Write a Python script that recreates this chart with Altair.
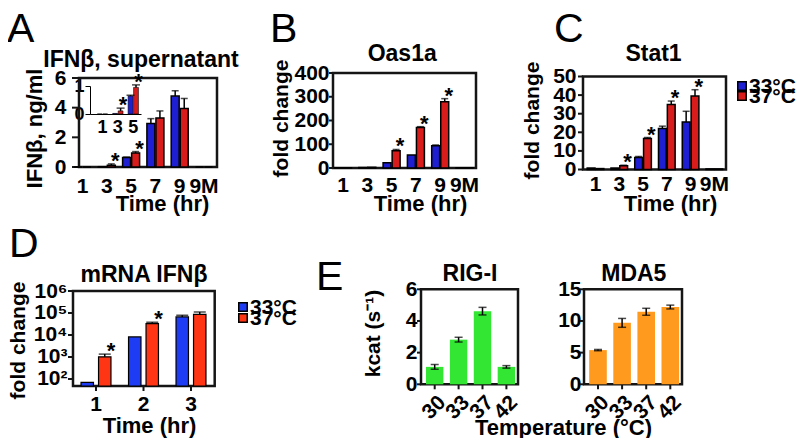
import altair as alt
import pandas as pd

W, H = 794, 430
M = 8


def px(v):
    return v - M


def py(v):
    return v - M


FONT = "Liberation Sans"
BLUE = "#1e1ed2"
RED = "#d81c1c"
D_BLUE = "#1f3cf5"
D_RED = "#ff3514"
GREEN = "#33e633"
ORANGE = "#ff9a1f"
LINE = "#151515"

# ---------------- data ----------------
time_cats = ["1", "3", "5", "7", "9", "9M"]
temps = ["33°C", "37°C"]

a_33 = [0.0, 0.02, 0.64, 2.93, 4.78, 0.0]
a_33_err = [0.0, 0.0, 0.03, 0.33, 0.36, 0.0]
a_37 = [0.0, 0.11, 0.95, 3.31, 3.94, 0.0]
a_37_err = [0.0, 0.10, 0.09, 0.47, 0.68, 0.0]
a_sig = ["3", "5"]
a_ticks = [0, 2, 4, 6]
inset_cats = ["1", "3", "5"]
inset_ticks = [0, 1]

b_33 = [1, 2, 22, 55, 94, 1]
b_33_err = [0, 0, 0, 0, 3, 0]
b_37 = [1, 3, 73, 171, 279, 1]
b_37_err = [0, 0, 5, 3, 13, 0]
b_sig = ["5", "7", "9"]
b_ticks = [0, 100, 200, 300, 400]

c_33 = [0.8, 0.8, 6.5, 22.0, 25.6, 0.3]
c_33_err = [0, 0, 0.5, 1.3, 5.7, 0]
c_37 = [0.5, 2.0, 16.7, 34.9, 39.5, 0.3]
c_37_err = [0, 0.3, 0.5, 1.9, 3.4, 0]
c_sig = ["3", "5", "7", "9"]
c_ticks = [0, 10, 20, 30, 40, 50]

d_cats = ["1", "2", "3"]
d_33 = [70, 8200, 66000]
d_33_err = [0, 0, 13000]
d_37 = [1020, 33000, 87000]
d_37_err = [330, 5000, 24000]
d_sig = ["1", "2"]
d_ticks = [100, 1000, 10000, 100000, 1000000]

e_temps = ["30", "33", "37", "42"]
rig = [1.1, 2.82, 4.62, 1.1]
rig_err = [0.15, 0.15, 0.24, 0.08]
rig_ticks = [0, 2, 4, 6]
mda = [5.4, 9.7, 11.45, 12.2]
mda_err = [0.1, 0.7, 0.55, 0.3]
mda_ticks = [0, 5, 10, 15]


def grouped_df(cats, v33, e33, v37, e37, sig):
    rows = []
    for i, c in enumerate(cats):
        for t, v, e in ((temps[0], v33[i], e33[i]), (temps[1], v37[i], e37[i])):
            rows.append({"cat": c, "temp": t, "val": v, "top": v + e, "err": e,
                         "sig": bool(t == temps[1] and c in sig)})
    return pd.DataFrame(rows)


def band_range(c0, step, n):
    r0 = c0 - step / 2.0
    return [px(r0), px(r0 + step * n)]


main_layers = []
line_layers = []


def left_axis(x_axis, values, pad, title=None, tx=0, ty=0, size=21, expr=None, tsize=21,
              fmt=None):
    kw = dict(orient="left", offset=-px(x_axis), values=values, domain=False, ticks=False,
              tickSize=0, labelPadding=pad, labelFontSize=size, grid=False,
              labelOverlap=False)
    if expr:
        kw["labelExpr"] = expr
    if fmt:
        kw["format"] = fmt
    if title:
        kw.update(title=title, titleX=tx - x_axis, titleY=py(ty), titleAngle=270,
                  titleAlign="center", titleBaseline="middle", titleFontSize=tsize)
    else:
        kw["title"] = None
    return alt.Axis(**kw)


def bottom_axis(y_axis, pad, title=None, tx=0, tbase=0, size=21, angle=0, tsize=22):
    kw = dict(orient="bottom", offset=py(y_axis) - H, domain=False, ticks=False, tickSize=0,
              labelPadding=pad, labelFontSize=size, labelAngle=angle, grid=False)
    if title:
        kw.update(title=title, titleX=px(tx), titleY=tbase - y_axis, titleAlign="center",
                  titleBaseline="alphabetic", titleFontSize=tsize)
    else:
        kw["title"] = None
    return alt.Axis(**kw)


def frame(x0, x1, yt, yb, title, tx, tbase, tsize=23):
    """Box around a panel (rect through unit scales) plus the panel title."""
    df = pd.DataFrame({"a": [0.0], "b": [1.0]})
    fx = alt.Scale(domain=[0, 1], range=[px(x0), px(x1)], nice=False)
    fy = alt.Scale(domain=[0, 1], range=[py(yb), py(yt)], nice=False)
    box = alt.Chart(df).mark_rect(fillOpacity=0, stroke=LINE, strokeWidth=2.5).encode(
        x=alt.X("a:Q", scale=fx, axis=None), x2="b:Q",
        y=alt.Y("a:Q", scale=fy, axis=None), y2="b:Q")
    ttl = alt.Chart(df).mark_point(opacity=0).encode(
        x=alt.X("a:Q", scale=fx,
                axis=alt.Axis(orient="top", offset=-py(yt), ticks=False, labels=False,
                              domain=False, grid=False, title=title, titleX=px(tx),
                              titleY=tbase - yt, titleAlign="center",
                              titleBaseline="alphabetic", titleFontSize=tsize)))
    main_layers.append(ttl)
    line_layers.append(box)


def yticks_layer(values, ys, x_axis, length, width=2):
    df = pd.DataFrame({"v": values})
    line_layers.append(alt.Chart(df).mark_rule(color=LINE, strokeWidth=width).encode(
        y=alt.Y("v:Q", scale=ys, axis=None),
        x=alt.value(px(x_axis - length)), x2=alt.value(px(x_axis))))


def xticks_layer(cats, xs, y_axis, length, width=2):
    df = pd.DataFrame({"c": cats})
    line_layers.append(alt.Chart(df).mark_rule(color=LINE, strokeWidth=width).encode(
        x=alt.X("c:N", scale=xs, sort=cats, axis=None),
        y=alt.value(py(y_axis)), y2=alt.value(py(y_axis + length))))


def legend_layers(lx, ly0, ly1, colors, size=21, sym=72):
    df = pd.DataFrame({"temp": temps})
    ys = alt.Scale(type="point", domain=temps, range=[py(ly0), py(ly1)], padding=0)
    cs = alt.Scale(domain=temps, range=colors)
    sq = alt.Chart(df).mark_square(size=sym, stroke="black", strokeWidth=1.5, opacity=1).encode(
        x=alt.value(px(lx)), y=alt.Y("temp:N", scale=ys, axis=None, sort=temps),
        fill=alt.Fill("temp:N", scale=cs, legend=None, sort=temps))
    tx = alt.Chart(df).mark_text(align="left", baseline="middle", fontSize=size,
                                 fontWeight="bold", font=FONT, color="black", dy=1).encode(
        x=alt.value(px(lx + 7)), y=alt.Y("temp:N", scale=ys, axis=None, sort=temps),
        text="temp:N")
    main_layers.extend([sq, tx])


def grouped_panel(df, cats, xs, xo, ys, colors, yaxis, xaxis, bar_stroke=1.5,
                  cap=7, y2=None, ast_dy=4):
    cs = alt.Scale(domain=temps, range=colors)
    enc_bar = dict(
        x=alt.X("cat:N", scale=xs, sort=cats, axis=xaxis),
        xOffset=alt.XOffset("temp:N", scale=xo, sort=temps),
        y=alt.Y("val:Q", scale=ys, axis=yaxis),
        color=alt.Color("temp:N", scale=cs, legend=None, sort=temps),
    )
    if y2 is not None:
        enc_bar["y2"] = alt.datum(y2)
    mk = dict(stroke="black", strokeWidth=bar_stroke) if bar_stroke else dict()
    main_layers.append(alt.Chart(df).mark_bar(**mk).encode(**enc_bar))
    dfe = df[df["err"] > 0]
    xn = alt.X("cat:N", scale=xs, sort=cats, axis=None)
    xon = alt.XOffset("temp:N", scale=xo, sort=temps)
    main_layers.append(alt.Chart(dfe).mark_rule(color="black", strokeWidth=1.5).encode(
        x=xn, xOffset=xon, y=alt.Y("val:Q", scale=ys, axis=None), y2="top:Q"))
    main_layers.append(alt.Chart(dfe).mark_tick(color="black", orient="horizontal", size=cap,
                                                thickness=1.5).encode(
        x=xn, xOffset=xon, y=alt.Y("top:Q", scale=ys, axis=None)))
    dfs = df[df["sig"]]
    main_layers.append(alt.Chart(dfs).mark_text(text="*", fontSize=22, fontWeight="bold",
                                                font=FONT, baseline="alphabetic", dy=ast_dy,
                                                color="black").encode(
        x=xn, xOffset=xon, y=alt.Y("top:Q", scale=ys, axis=None)))


# ---------------- Panel A ----------------
dfa = grouped_df(time_cats, a_33, a_33_err, a_37, a_37_err, a_sig)
xsA = alt.Scale(domain=time_cats, range=band_range(82.5, 24.3, 6), paddingInner=0.3,
                paddingOuter=0.15)
xoA = alt.Scale(domain=temps, paddingInner=0.12, paddingOuter=0)
ysA = alt.Scale(domain=[0, 6], range=[py(167), py(78)], nice=False)
grouped_panel(dfa, time_cats, xsA, xoA, ysA, [BLUE, RED],
              left_axis(79, a_ticks, 13, "IFNβ, ng/ml", 34.5, 128, tsize=22),
              bottom_axis(167, 8.5, "Time (hr)", 162, 210))
frame(79, 217, 78, 167, "IFNβ, supernatant", 140.5, 66)
yticks_layer(a_ticks, ysA, 79, 7)

# inset of panel A (thin axes)
dfi = dfa[dfa["cat"].isin(inset_cats)]
xsI = alt.Scale(domain=inset_cats, range=[px(90), px(141)], paddingInner=0.33,
                paddingOuter=0.32, align=0.74)
xoI = alt.Scale(domain=temps, paddingInner=0.12, paddingOuter=0)
ysI = alt.Scale(domain=[0, 1], range=[py(114), py(86)], nice=False)
inset_y = alt.Axis(orient="left", offset=-px(90), values=inset_ticks, format="d",
                   tickSize=5, tickWidth=1, domainWidth=1, labelPadding=1, labelFontSize=18,
                   grid=False, labelOverlap=False, title=None)
inset_x = alt.Axis(orient="bottom", offset=py(114) - H, ticks=False, tickSize=0,
                   domainWidth=1, labelPadding=4.5, labelFontSize=18, labelAngle=0,
                   grid=False, title=None)
grouped_panel(dfi, inset_cats, xsI, xoI, ysI, [BLUE, RED], inset_y, inset_x,
              bar_stroke=0.6, cap=8, ast_dy=4)

# ---------------- Panel B ----------------
dfb = grouped_df(time_cats, b_33, b_33_err, b_37, b_37_err, b_sig)
xsB = alt.Scale(domain=time_cats, range=band_range(343, 24.3, 6), paddingInner=0.3,
                paddingOuter=0.15)
xoB = alt.Scale(domain=temps, paddingInner=0.12, paddingOuter=0)
ysB = alt.Scale(domain=[0, 400], range=[py(168), py(73)], nice=False)
grouped_panel(dfb, time_cats, xsB, xoB, ysB, [BLUE, RED],
              left_axis(333, b_ticks, 4, "fold change", 281, 118),
              bottom_axis(168, 6.5, "Time (hr)", 420, 210))
frame(333, 476, 73, 168, "Oas1a", 401.7, 60.5)
yticks_layer(b_ticks, ysB, 333, 4)

# ---------------- Panel C ----------------
dfc = grouped_df(time_cats, c_33, c_33_err, c_37, c_37_err, c_sig)
xsC = alt.Scale(domain=time_cats, range=band_range(595.5, 23.77, 6), paddingInner=0.3,
                paddingOuter=0.15)
xoC = alt.Scale(domain=temps, paddingInner=0.12, paddingOuter=0)
ysC = alt.Scale(domain=[0, 50], range=[py(169.5), py(76.5)], nice=False)
grouped_panel(dfc, time_cats, xsC, xoC, ysC, [BLUE, RED],
              left_axis(583, c_ticks, 7, "fold change", 532, 120),
              bottom_axis(169.5, 4, "Time (hr)", 670, 210))
frame(583, 726, 76.5, 169.5, "Stat1", 653, 60)
yticks_layer(c_ticks, ysC, 583, 5)
legend_layers(742, 86, 96, [BLUE, RED], size=21)

# ---------------- Panel D ----------------
dfd = grouped_df(d_cats, d_33, d_33_err, d_37, d_37_err, d_sig)
xsD = alt.Scale(domain=d_cats, range=band_range(96, 47.5, 3), paddingInner=0.37,
                paddingOuter=0.185)
xoD = alt.Scale(domain=temps, paddingInner=0.29, paddingOuter=0)
ysD = alt.Scale(type="log", domain=[48, 1000000], range=[py(386), py(291)], nice=False)
sup_expr = ("datum.value == 100 ? '10²' : datum.value == 1000 ? '10³' : "
            "datum.value == 10000 ? '10⁴' : datum.value == 100000 ? '10⁵' : '10⁶'")
grouped_panel(dfd, d_cats, xsD, xoD, ysD, [D_BLUE, D_RED],
              left_axis(73, d_ticks, 6, "fold change", 18, 340, expr=sup_expr),
              bottom_axis(386, 7.5, "Time (hr)", 149, 432),
              bar_stroke=1.2, cap=12, y2=48)
frame(73, 214.7, 291, 386, "mRNA IFNβ", 143.5, 281.5)
yticks_layer(d_ticks, ysD, 73, 5)
xticks_layer(d_cats, xsD, 386, 5)
legend_layers(243, 307, 318, [D_BLUE, D_RED], size=21)


# ---------------- Panel E ----------------
def e_panel(vals, errs, color, c0, step, x0, x1, ymax, yticks, yaxis, xaxis, title, tx):
    df = pd.DataFrame({"t": e_temps, "val": vals,
                       "lo": [v - e for v, e in zip(vals, errs)],
                       "hi": [v + e for v, e in zip(vals, errs)]})
    xs = alt.Scale(domain=e_temps, range=band_range(c0, step, 4), paddingInner=0.27,
                   paddingOuter=0.135)
    ys = alt.Scale(domain=[0, ymax], range=[py(384.3), py(289.3)], nice=False)
    main_layers.append(alt.Chart(df).mark_bar(color=color).encode(
        x=alt.X("t:N", scale=xs, sort=e_temps, axis=xaxis),
        y=alt.Y("val:Q", scale=ys, axis=yaxis)))
    xn = alt.X("t:N", scale=xs, sort=e_temps, axis=None)
    main_layers.append(alt.Chart(df).mark_rule(color="black", strokeWidth=1.5).encode(
        x=xn, y=alt.Y("lo:Q", scale=ys, axis=None), y2="hi:Q"))
    for f in ("lo", "hi"):
        main_layers.append(alt.Chart(df).mark_tick(color="black", orient="horizontal", size=8,
                                                   thickness=1.5).encode(
            x=xn, y=alt.Y(f + ":Q", scale=ys, axis=None)))
    frame(x0, x1, 289.3, 384.3, title, tx, 280)
    yticks_layer(yticks, ys, x0, 4)
    xticks_layer(e_temps, xs, 384.3, 5)


e_panel(rig, rig_err, GREEN, 434.7, 23.9, 421, 518, 6, rig_ticks,
        left_axis(421, rig_ticks, 4, "kcat (s⁻¹)", 373, 333),
        bottom_axis(384.3, 7, "Temperature (°C)", 563, 434, angle=-45),
        "RIG-I", 469.5)
e_panel(mda, mda_err, ORANGE, 598, 24.1, 584, 682, 15, mda_ticks,
        left_axis(584, mda_ticks, 3),
        bottom_axis(384.3, 7, angle=-45),
        "MDA5", 633.3)

# ---------------- panel letters ----------------
for s, lx, lb in (("A", 7, 42), ("B", 270, 42), ("C", 554, 42), ("D", 9, 257), ("E", 316, 290)):
    main_layers.append(alt.Chart(pd.DataFrame({"t": [s]})).mark_text(
        font=FONT, fontSize=41, align="left", baseline="alphabetic", color="black").encode(
        text="t:N", x=alt.value(px(lx)), y=alt.value(py(lb))))

all_layers = line_layers + main_layers

chart = alt.layer(*all_layers).resolve_scale(
    x="independent", y="independent", xOffset="independent", color="independent",
    fill="independent"
).resolve_axis(x="independent", y="independent").properties(
    width=W, height=H, padding=0, autosize=alt.AutoSizeParams(type="none")
).configure(font=FONT).configure_view(stroke="transparent").configure_axis(
    labelFont=FONT, labelFontWeight="bold", labelColor="black", titleFont=FONT,
    titleFontWeight="bold", titleColor="black", domainColor="black", tickColor="black"
)

chart.save("out.html", embed_options={"renderer": "svg", "actions": False})
